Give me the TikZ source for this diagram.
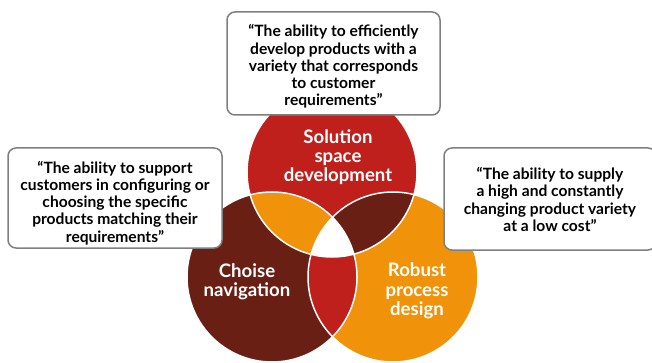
\documentclass[tikz,border=0pt]{standalone}
\usepackage{fontspec}
\setmainfont{Lato}
\definecolor{cred}{HTML}{C0201B}
\definecolor{cbrown}{HTML}{6A1F15}
\definecolor{corange}{HTML}{F0920A}
\definecolor{cgray}{HTML}{7F7F7F}
\tikzset{
  quotebox/.style={draw=cgray, line width=1.5pt, fill=white, rounded corners=8pt, inner sep=0pt},
  quotetext/.style={align=center, font=\fontsize{15.6}{17.2}\selectfont\bfseries, inner sep=0pt},
  circlabel/.style={text=white, align=center, font=\fontsize{18.6}{19.3}\selectfont\bfseries}
}
\begin{document}
\begin{tikzpicture}[x=1pt,y=-1pt]
\useasboundingbox (0,0) rectangle (652,363);
\coordinate (ct) at (332,172);
\coordinate (cl) at (272,277);
\coordinate (cr) at (393,277);
\def\R{85pt}
% base circles
\fill[cred] (ct) circle (\R);
\fill[cbrown] (cl) circle (\R);
\fill[corange] (cr) circle (\R);
% pairwise overlaps
\begin{scope}
  \clip (ct) circle (\R);
  \fill[corange] (cl) circle (\R);
  \fill[cbrown] (cr) circle (\R);
\end{scope}
\begin{scope}
  \clip (cl) circle (\R);
  \fill[cred] (cr) circle (\R);
\end{scope}
\begin{scope}
  \clip (ct) circle (\R);
  \clip (cl) circle (\R);
  \fill[white] (cr) circle (\R);
\end{scope}
% white outlines
\draw[white, line width=1.5pt] (ct) circle (\R) (cl) circle (\R) (cr) circle (\R);
% circle labels
\node[circlabel] (lt) at (338,157) {Solution\\space\\development};
\node[circlabel] (ll) at (247,282) {Choise\\navigation};
\node[circlabel] (lr) at (417,291) {Robust\\process\\design};
% quote boxes
\node[quotebox, minimum width=213pt, minimum height=103pt] (bt) at (333.5,63.5) {};
\node[quotetext] (tt) at ([yshift=-3pt]bt.center)
  {“The ability to efficiently\\develop products with a\\variety that corresponds\\to customer\\requirements”};
\node[quotebox, minimum width=214pt, minimum height=100pt] (bl) at (115,198) {};
\node[quotetext] (tl) at ([yshift=-5pt]bl.center)
  {“The ability to support\\customers in configuring or\\choosing the specific\\products matching their\\requirements”};
\node[quotebox, minimum width=212pt, minimum height=102pt] (br) at (550,199) {};
\node[quotetext] (tr) at ([yshift=-0.5pt]br.center)
  {“The ability to supply\\a high and constantly\\changing product variety\\at a low cost”};
\end{tikzpicture}
\end{document}
